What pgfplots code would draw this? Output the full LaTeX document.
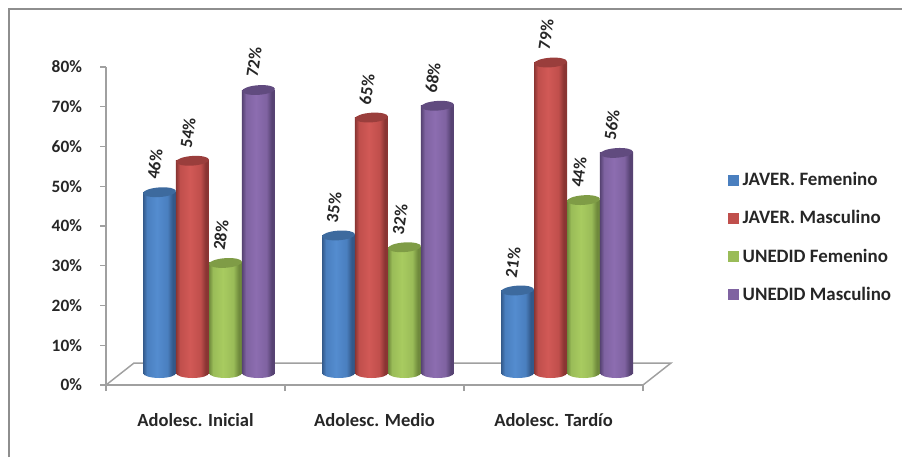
\documentclass[border=0pt]{standalone}
\usepackage{fontspec}
\setmainfont{Carlito}
\usepackage{pgfplots}
\usepackage{pgfplotstable}
\pgfplotsset{compat=1.18}

\definecolor{framegray}{HTML}{8E8E8E}
\definecolor{axisgray}{HTML}{A0A0A0}
\definecolor{txt}{HTML}{262626}

% Series colours: edge, mid, highlight, cap
\definecolor{jfE}{HTML}{33598A}\definecolor{jfM}{HTML}{4A7FBF}\definecolor{jfH}{HTML}{548CCF}\definecolor{jfT}{HTML}{3D6A9E}
\definecolor{jmE}{HTML}{8A3533}\definecolor{jmM}{HTML}{C04F4C}\definecolor{jmH}{HTML}{D15956}\definecolor{jmT}{HTML}{9A3E3C}
\definecolor{ufE}{HTML}{6F8A3C}\definecolor{ufM}{HTML}{9ABC58}\definecolor{ufH}{HTML}{A8CB60}\definecolor{ufT}{HTML}{7F9C46}
\definecolor{umE}{HTML}{574373}\definecolor{umM}{HTML}{7F63A1}\definecolor{umH}{HTML}{8C6DB0}\definecolor{umT}{HTML}{614B7F}

% Cylinder side shading and the two end caps of one series
\newcommand\cylseries[1]{%
  \pgfdeclarehorizontalshading{cyl#1}{100bp}{%
    color(0bp)=(#1E); color(25bp)=(#1E); color(31bp)=(#1M); color(46bp)=(#1H);
    color(62bp)=(#1M); color(70bp)=(#1E); color(75bp)=(#1E); color(100bp)=(#1E)}%
  \pgfdeclareplotmark{base#1}{%
    \pgfpathellipse{\pgfpointorigin}{\pgfpoint{12.375pt}{0pt}}{\pgfpoint{0pt}{3.75pt}}%
    \pgfshadepath{cyl#1}{0}\pgfusepath{discard}}%
  \pgfdeclareplotmark{cap#1}{%
    \pgfsetfillcolor{#1T}%
    \pgfpathellipse{\pgfpointorigin}{\pgfpoint{12.35pt}{0.86pt}}{\pgfpoint{-0.25pt}{3.6pt}}%
    \pgfusepath{fill}}%
}
\cylseries{jf}\cylseries{jm}\cylseries{uf}\cylseries{um}

\pgfplotstableread{
x jf jm uf um
0 46 54 28 72
1 35 65 32 68
2 21 79 44 56
}\shares

\newcommand\lab{\fontsize{13}{15}\selectfont\bfseries\color{txt}}
\newcommand\catlab{\fontsize{13.9}{16}\selectfont\bfseries\color{txt}}
\newcommand\leglab{\fontsize{14.2}{16}\selectfont\bfseries\color{txt}}

% One cylinder side per row, so that each is shaded across its own width
\newcommand\cylside[3]{%
  \addplot[forget plot,ybar,bar width=24.75pt,bar shift=0pt,draw=none,shading=cyl#1,
    skip coords between index={0}{#3},
    skip coords between index={\numexpr#3+1\relax}{3}]
    table[x expr=\thisrow{x}+#2,y=#1] {\shares};
}
% One series of cylinders: base ellipses, sides, caps and values
\newcommand\cylinder[2]{%
  \addplot[forget plot,only marks,mark=base#1] table[x expr=\thisrow{x}+#2,y expr=0] {\shares};
  \cylside{#1}{#2}{0}\cylside{#1}{#2}{1}\cylside{#1}{#2}{2}
  \addplot[forget plot,only marks,mark=cap#1,
    nodes near coords={\pgfmathprintnumber{\pgfplotspointmeta}\%},
    point meta=y,
    every node near coord/.style={anchor=center,xshift=-3.5pt,yshift=21pt,rotate=82,font=\lab,inner sep=0pt}]
    table[x expr=\thisrow{x}+#2,y=#1] {\shares};
}

\begin{document}
\begin{tikzpicture}
  \path[use as bounding box] (0,0) rectangle (676.5pt,342.75pt);
  \draw[framegray,line width=1.5pt] (6.4pt,0) -- (6.4pt,336pt) -- (676.5pt,336pt);

  % Value axis and floor
  \begin{axis}[
    at={(79.5pt,54pt)},anchor=south west,
    scale only axis,width=402.75pt,height=238.5pt,
    xmin=-0.5,xmax=2.5,ymin=0,ymax=80,
    clip=false,
    axis y line*=left,axis x line*=bottom,
    axis line style={axisgray,line width=1.1pt,-},
    tick style={axisgray,line width=1.1pt},
    tick align=outside,major tick length=4.5pt,
    ytick={0,10,...,80},
    yticklabel={\pgfmathparse{int(\tick)}\pgfmathresult\%},
    yticklabel style={font=\lab,xshift=-10pt},
    xtick={-0.5,0.5,1.5,2.5},
    xticklabels={,,,},
    extra x ticks={0,1,2},
    extra x tick labels={Adolesc. Inicial,Adolesc. Medio,Adolesc. Tardío},
    extra x tick style={major tick length=0pt,xticklabel style={font=\catlab,yshift=-18pt}},
  ]
    \addplot[axisgray,line width=1.1pt,forget plot] coordinates
      {(-0.5,0) (-0.3436,5.53) (2.6564,5.53) (2.5,0)};
  \end{axis}

  % Cylinders, drawn on a scale whose zero stands on the floor
  \begin{axis}[
    at={(79.5pt,54pt)},anchor=south west,
    scale only axis,width=402.75pt,height=238.5pt,
    xmin=-0.5754,xmax=2.4246,ymin=-3.053,ymax=77.86,
    clip=false,hide axis,
    /pgf/number format/assume math mode=true,
    legend style={at={(rel axis cs:1.158,0.67)},anchor=north west,draw=none,fill=none,
      font=\leglab,row sep=17.25pt,column sep=3pt,inner sep=0pt,
      nodes={inner sep=0pt}},
    legend cell align=left,
  ]
    \cylinder{jf}{-0.2765}
    \cylinder{jm}{-0.0922}
    \cylinder{uf}{0.0922}
    \cylinder{um}{0.2765}
    \addlegendimage{legend image code/.code={\fill[jfM] (0pt,-3.75pt) rectangle (7.5pt,3.75pt);}}
    \addlegendentry{JAVER. Femenino}
    \addlegendimage{legend image code/.code={\fill[jmM] (0pt,-3.75pt) rectangle (7.5pt,3.75pt);}}
    \addlegendentry{JAVER. Masculino}
    \addlegendimage{legend image code/.code={\fill[ufM] (0pt,-3.75pt) rectangle (7.5pt,3.75pt);}}
    \addlegendentry{UNEDID Femenino}
    \addlegendimage{legend image code/.code={\fill[umM] (0pt,-3.75pt) rectangle (7.5pt,3.75pt);}}
    \addlegendentry{UNEDID Masculino}
  \end{axis}
\end{tikzpicture}
\end{document}
